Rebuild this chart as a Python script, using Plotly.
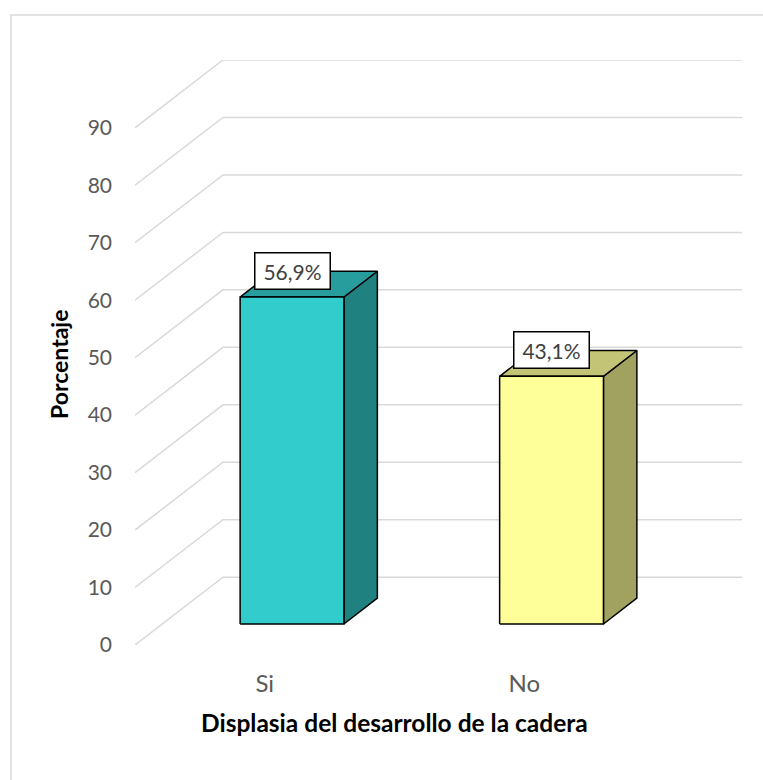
import plotly.graph_objects as go

# ---- data ----
categories = ["Si", "No"]
values = [56.9, 43.1]
value_labels = ["56,9%", "43,1%"]
y_ticks = [0, 10, 20, 30, 40, 50, 60, 70, 80, 90]
front_colors = [(51, 204, 204), (255, 255, 153)]
x_title = "Displasia del desarrollo de la cadera"
y_title = "Porcentaje"

# ---- 3D-look geometry (style constants) ----
DX = 0.339      # depth offset of back wall, x units
DY = 11.8       # depth offset of back wall, value units
W = 0.4         # bar width (category units)
F0, F1 = 0.31, 0.69   # bar front / back depth fractions

W_PX, H_PX = 763, 780
ML, MR, MT, MB = 135, 21, 60, 135
PW = W_PX - ML - MR
PH = H_PX - MT - MB
FONT = "Lato, 'Open Sans', sans-serif"


def shade(rgb, k):
    return "rgb(%d,%d,%d)" % tuple(round(c * k) for c in rgb)


fig = go.Figure()

# gridlines: front-left diagonal then back wall horizontal
gx, gy = [], []
x_lo, x_hi = -0.5, len(categories) - 0.5
for v in y_ticks:
    gx += [x_lo, x_lo + DX, x_hi + DX, None]
    gy += [v, v + DY, v + DY, None]
fig.add_trace(go.Scatter(x=gx, y=gy, mode="lines",
                         line=dict(color="#d9d9d9", width=1.5),
                         hoverinfo="skip", showlegend=False, cliponaxis=False))

for i, (v, col) in enumerate(zip(values, front_colors)):
    l0 = i - W / 2 + F0 * DX
    r0 = i + W / 2 + F0 * DX
    l1 = i - W / 2 + F1 * DX
    r1 = i + W / 2 + F1 * DX
    b0, b1 = F0 * DY, F1 * DY
    t0, t1 = v + F0 * DY, v + F1 * DY
    polys = [
        ([r0, r1, r1, r0, r0], [b0, b1, t1, t0, b0], shade(col, 0.63)),   # side
        ([l0, r0, r1, l1, l0], [t0, t0, t1, t1, t0], shade(col, 0.77)),   # top
        ([l0, r0, r0, l0, l0], [b0, b0, t0, t0, b0], shade(col, 1.0)),    # front
    ]
    for px, py, fc in polys:
        fig.add_trace(go.Scatter(x=px, y=py, mode="lines", fill="toself",
                                 fillcolor=fc, line=dict(color="#000000", width=1.5),
                                 hoverinfo="skip", showlegend=False, cliponaxis=False))
    fig.add_annotation(x=i + F0 * DX, y=t0, xref="x", yref="y",
                       text=value_labels[i], showarrow=False,
                       xanchor="center", yanchor="bottom", yshift=7,
                       bgcolor="white", bordercolor="#000000", borderwidth=1.5,
                       borderpad=2, width=70, height=31,
                       font=dict(family=FONT, size=21, color="#404040"))

# axis titles
fig.add_annotation(x=(len(categories) - 1) / 2, y=0, xref="x", yref="paper",
                   text="<b>%s</b>" % x_title, showarrow=False,
                   xanchor="center", yanchor="middle", yshift=-77,
                   font=dict(family=FONT, size=24.5, color="#000000"))
fig.add_annotation(x=(59 - ML) / PW, y=(H_PX - MB - 365) / PH, xref="paper", yref="paper",
                   text="<b>%s</b>" % y_title, showarrow=False, textangle=-90,
                   xanchor="center", yanchor="middle",
                   font=dict(family=FONT, size=23, color="#000000"))

# outer chart frame (extends past the page right/bottom)
fig.add_shape(type="rect", xref="paper", yref="paper",
              x0=(11 - ML) / PW, x1=2.0, y0=-2.0, y1=(H_PX - MB - 15) / PH,
              line=dict(color="#d9d9d9", width=1.5), fillcolor="rgba(0,0,0,0)")

fig.update_layout(
    width=W_PX, height=H_PX,
    margin=dict(l=ML, r=MR, t=MT, b=MB, pad=0),
    paper_bgcolor="white", plot_bgcolor="white",
    showlegend=False,
    xaxis=dict(range=[x_lo, x_hi + DX], showgrid=False, zeroline=False, showline=False,
               tickvals=list(range(len(categories))), ticktext=categories,
               ticks="", ticklabelstandoff=22,
               tickfont=dict(family=FONT, size=24, color="#595959"), fixedrange=True),
    yaxis=dict(range=[0, y_ticks[-1] + DY], showgrid=False, zeroline=False, showline=False,
               tickvals=y_ticks, ticktext=[str(t) for t in y_ticks],
               ticks="", ticklabelstandoff=22,
               tickfont=dict(family=FONT, size=21, color="#595959"), fixedrange=True),
)

fig.write_html("out.html")
